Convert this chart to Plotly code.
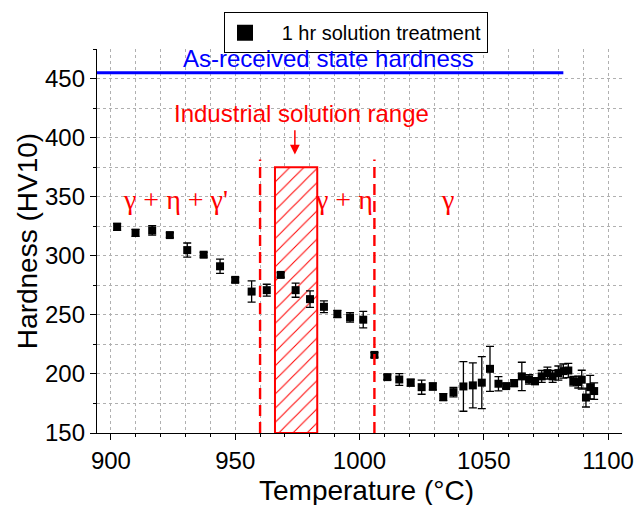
import plotly.graph_objects as go

# Data
temps = [902.5, 909.9, 916.6, 923.7, 930.7, 937.3, 943.9, 950.0, 956.6, 962.7,
         968.3, 974.3, 980.1, 985.7, 991.1, 996.2, 1001.5,
         1006.0, 1011.2, 1016.0, 1020.6, 1025.0, 1029.5, 1033.7, 1037.8,
         1041.8, 1045.6, 1049.2, 1052.5, 1055.9, 1059.0, 1062.2, 1065.3,
         1068.2, 1070.6, 1073.3, 1075.6, 1077.7, 1080.0, 1082.0, 1084.0,
         1086.0, 1088.0, 1089.4, 1091.1, 1092.8, 1094.4]
hardness = [324.5, 319.4, 321.4, 317.5, 304.8, 300.9, 291.1, 279.6, 269.7, 270.9,
            283.8, 270.9, 263.3, 256.8, 250.7, 247.8, 245.9,
            216.1, 197.3, 195.3, 192.6, 188.8, 189.4, 180.4, 184.6,
            189.4, 190.3, 192.6, 204.3, 191.7, 189.7, 192.2, 197.9,
            195.3, 193.9, 197.9, 200.7, 197.9, 200.7, 202.4, 202.9,
            193.9, 193.1, 195.1, 180.0, 188.8, 185.5]
errors = [3, 3, 4, 2, 6, 2, 6, 2, 9, 5,
          2, 6, 7, 5, 3, 4, 7,
          2, 2, 5, 3, 6, 3, 3, 4,
          21, 19, 22, 19, 6, 2, 3, 12,
          4, 3, 5, 5, 5, 6, 6, 6,
          4, 5, 8, 8, 10, 7]

as_received = 455
as_received_end = 1082
industrial_range = [966, 983]
industrial_top = 375
phase_bounds = [960, 1006]
phase_labels = ["γ + η + γ'", "γ + η", "γ"]
phase_label_x = [925.8, 993.8, 1035.2]
phase_label_y = 347.8

xr = [894.4, 1105.6]
yr = [150, 475]

fig = go.Figure()

# Hatched industrial range (bar)
fig.add_trace(go.Bar(
    x=[(industrial_range[0] + industrial_range[1]) / 2],
    y=[industrial_top - yr[0]], base=[yr[0]],
    width=[industrial_range[1] - industrial_range[0]],
    marker=dict(color="white", opacity=1, line=dict(color="red", width=2),
                pattern=dict(shape="/", fgcolor="red", bgcolor="white", fgopacity=1,
                             size=10, solidity=0.1)),
    showlegend=False, hoverinfo="skip"))

fig.add_trace(go.Scatter(
    x=temps, y=hardness, mode="markers",
    marker=dict(symbol="square", size=8, color="black"),
    error_y=dict(type="data", array=errors, visible=True, color="black", thickness=1.3, width=4),
    showlegend=False))

# legend dummy
fig.add_trace(go.Scatter(
    x=[None], y=[None], mode="markers", name="\u00a0\u00a0\u00a01 hr solution treatment",
    marker=dict(symbol="square", size=16, color="black")))

shapes = []
shapes.append(dict(type="line", xref="x", yref="y", x0=xr[0], x1=as_received_end,
                   y0=as_received, y1=as_received, line=dict(color="#0000ff", width=3)))
for xb in phase_bounds:
    shapes.append(dict(type="line", xref="x", yref="y", x0=xb, x1=xb, y0=yr[0], y1=381.5,
                       line=dict(color="red", width=2.4, dash="11px,6px")))

annotations = []
annotations.append(dict(x=987.7, y=467.0, xref="x", yref="y", text="As-received state hardness",
                        showarrow=False, font=dict(color="#0000ff", size=24, family="Liberation Sans")))
annotations.append(dict(x=976.5, y=450 - (112 - 76.7) / 1.187, xref="x", yref="y",
                        text="Industrial solution range", showarrow=False,
                        font=dict(color="red", size=24, family="Liberation Sans")))
annotations.append(dict(x=974, y=385.7, ax=974, ay=407.6, xref="x", yref="y", axref="x", ayref="y",
                        text="", showarrow=True, arrowhead=2, arrowsize=1.3, arrowwidth=1.5,
                        arrowcolor="red"))
for t, xx in zip(phase_labels, phase_label_x):
    annotations.append(dict(x=xx, y=phase_label_y, xref="x", yref="y", text=t, showarrow=False,
                            font=dict(color="red", size=28, family="Liberation Serif")))
annotations.append(dict(x=(366 - 97) / 525, y=(432.7 - 490) / 385.7, xref="paper", yref="paper",
                        xanchor="center", yanchor="middle",
                        text="Temperature (°C)", showarrow=False,
                        font=dict(size=28, family="Liberation Sans", color="black")))
annotations.append(dict(x=(27 - 97) / 525, y=(432.7 - 240) / 385.7, xref="paper", yref="paper",
                        xanchor="center", yanchor="middle",
                        text="Hardness (HV10)", showarrow=False, textangle=-90,
                        font=dict(size=28, family="Liberation Sans", color="black")))

grid = dict(gridcolor="#b0b0b0", griddash="3px,3px", gridwidth=1)

fig.update_layout(
    width=635, height=505,
    margin=dict(l=97, r=13, t=47, b=72),
    plot_bgcolor="white", paper_bgcolor="white",
    font=dict(family="Liberation Sans", size=24, color="black"),
    shapes=shapes, annotations=annotations,
    legend=dict(x=(224 - 97) / 525, y=(432.7 - 10) / 385.7, xanchor="left", yanchor="top",
                bordercolor="black", borderwidth=1, bgcolor="white",
                font=dict(size=20, family="Liberation Sans")),
    xaxis=dict(range=xr, automargin=False, showline=True, linecolor="black", linewidth=1.3,
               ticks="outside", ticklen=6, tickcolor="black", tickwidth=1.3, dtick=50, tick0=900,
               showgrid=True, zeroline=False, **grid,
               minor=dict(dtick=10, ticks="outside", ticklen=3, tickcolor="black",
                          showgrid=True, **grid)),
    yaxis=dict(range=yr, automargin=False, showline=True, linecolor="black", linewidth=1.3,
               ticks="outside", ticklen=6, tickcolor="black", tickwidth=1.3, dtick=50, tick0=150,
               showgrid=True, zeroline=False, **grid,
               minor=dict(dtick=25, ticks="outside", ticklen=3, tickcolor="black",
                          showgrid=True, **grid)),
)

fig.write_html("out.html")
